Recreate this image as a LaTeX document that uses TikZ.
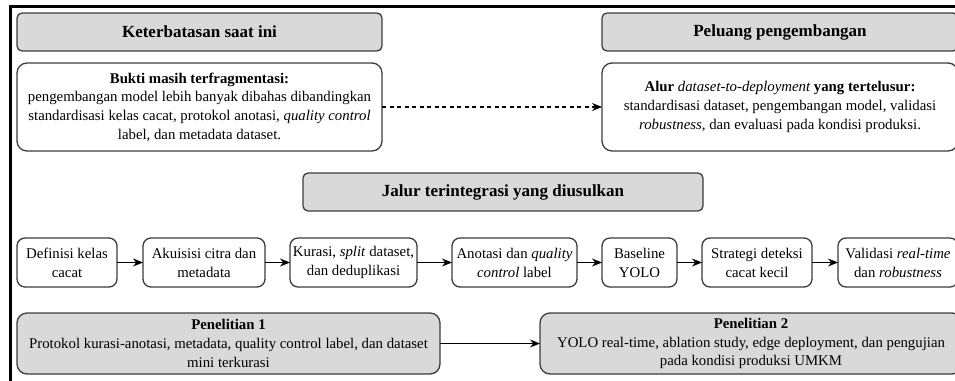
\documentclass[tikz,border=0pt]{standalone}
\usepackage{fontspec}
\setmainfont{Liberation Serif}
\usetikzlibrary{positioning,arrows.meta}
\definecolor{boxgray}{RGB}{217,217,217}
\definecolor{edgegray}{RGB}{60,60,60}

\begin{document}
\begin{tikzpicture}[
    x=1pt, y=-1pt,
    head/.style={draw=edgegray, fill=boxgray, line width=1.3pt, rounded corners=5pt, minimum height=38pt, inner sep=1pt, outer sep=0pt, font=\fontsize{17}{20}\selectfont\bfseries},
    note/.style={draw=edgegray, line width=1.3pt, rounded corners=10pt, minimum height=88pt, inner sep=1pt, outer sep=0pt, align=center, font=\fontsize{14.8}{18.7}\selectfont},
    stage/.style={draw=edgegray, line width=1.3pt, rounded corners=8pt, minimum height=49pt, inner sep=1pt, outer sep=0pt, align=center, font=\fontsize{14.8}{19}\selectfont},
    study/.style={draw=edgegray, fill=boxgray, line width=1.3pt, rounded corners=10pt, minimum height=61pt, inner sep=1pt, outer sep=0pt, align=center, font=\fontsize{14.8}{18.7}\selectfont},
    arrow/.style={-{Stealth[length=10pt,width=8pt]}, line width=1.4pt}
]
\useasboundingbox (0,0) rectangle (955,380);
\clip (0,0) rectangle (955,380);

% frame of the screenshot
\draw[line width=3pt] (10.5,385) -- (10.5,6) -- (960,6);

% ========== TOP: limits vs. chances ==========
\node[head, minimum width=365pt] (ket) at (199.5,32) {Keterbatasan saat ini};
\node[note, minimum width=365pt, below=12pt of ket] (bukti) {%
    \textbf{Bukti masih terfragmentasi:}\\
    pengembangan model lebih banyak dibahas dibandingkan\\
    standardisasi kelas cacat, protokol anotasi, \textit{quality control}\\
    label, dan metadata dataset.};

\node[head, minimum width=356pt] (pel) at (780,32) {Peluang pengembangan};
\node[note, minimum width=356pt, below=12pt of pel] (alur) {%
    \textbf{Alur {\mdseries\itshape dataset-to-deployment} yang tertelusur:}\\
    standardisasi dataset, pengembangan model, validasi\\
    \textit{robustness}, dan evaluasi pada kondisi produksi.};

\draw[arrow, dash pattern=on 4pt off 3.5pt, line width=1.2pt] (bukti) -- (alur);

% ========== MIDDLE: proposed pipeline ==========
\node[head, minimum width=400pt] (jalur) at (503,192) {Jalur terintegrasi yang diusulkan};

\node[stage, minimum width=100pt] (def) at (67,262.5) {Definisi kelas\\cacat};
\node[stage, minimum width=122pt, right=26pt of def] (akui) {Akuisisi citra dan\\metadata};
\node[stage, minimum width=127pt, right=25pt of akui] (kur) {Kurasi, \textit{split} dataset,\\dan deduplikasi};
\node[stage, minimum width=125pt, right=35pt of kur] (ano) {Anotasi dan \textit{quality}\\\textit{control} label};
\node[stage, minimum width=75pt, right=25pt of ano] (base) {Baseline\\YOLO};
\node[stage, minimum width=110pt, right=25pt of base] (strat) {Strategi deteksi\\cacat kecil};
\node[stage, minimum width=120pt, right=26pt of strat] (vali) {Validasi \textit{real-time}\\dan \textit{robustness}};

\foreach \a/\b in {def/akui, akui/kur, kur/ano, ano/base, base/strat, strat/vali}
    \draw[arrow] (\a) -- (\b);

% ========== BOTTOM: studies ==========
\node[study, minimum width=423pt] (pen1) at (228.5,343.5) {%
    \textbf{Penelitian 1}\\
    Protokol kurasi-anotasi, metadata, quality control label, dan dataset\\
    mini terkurasi};
\node[study, minimum width=422pt] (pen2) at (751,343.5) {%
    \textbf{Penelitian 2}\\
    YOLO real-time, ablation study, edge deployment, dan pengujian\\
    pada kondisi produksi UMKM};

\draw[arrow] (pen1) -- (pen2);

\end{tikzpicture}
\end{document}
